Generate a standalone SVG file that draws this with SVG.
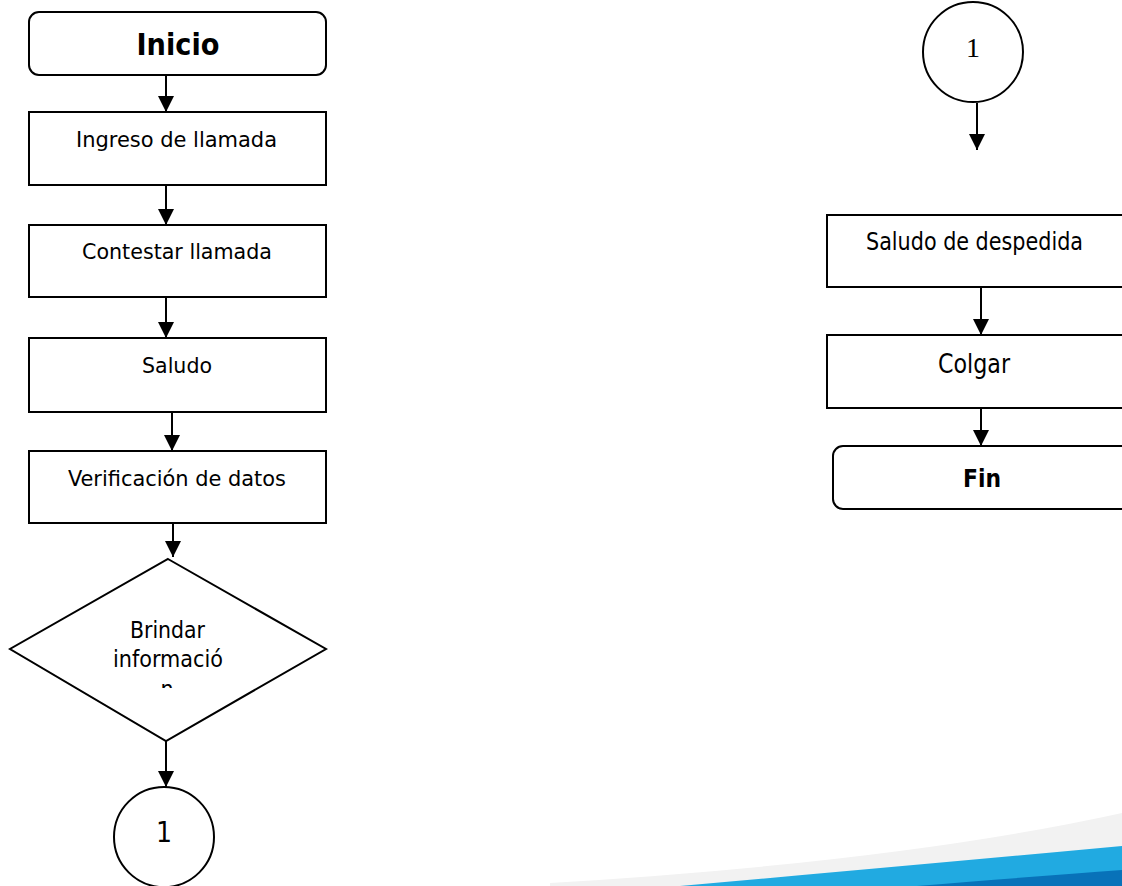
<svg xmlns="http://www.w3.org/2000/svg" width="1122" height="886" viewBox="0 0 1122 886">
<style>
.box{fill:#fff;stroke:#000;stroke-width:2}
.t{font-family:"DejaVu Sans","Liberation Sans",sans-serif;font-stretch:condensed;fill:#000;text-anchor:middle}
.b{font-weight:bold}
.con{stroke:#000;stroke-width:2;fill:none;marker-end:url(#ah)}
</style>
<defs>
<marker id="ah" markerUnits="userSpaceOnUse" markerWidth="16" markerHeight="16" refX="16" refY="8" orient="auto">
<path d="M0,0 L16,8 L0,16 z" fill="#000"/>
</marker>
<clipPath id="clipN"><rect x="100" y="600" width="140" height="88"/></clipPath>
</defs>
<rect width="1122" height="886" fill="#fff"/>
<g id="swoosh">
<path d="M550,886 L550,883 Q900,862 1122,813 L1122,886 Z" fill="#f2f2f2"/>
<path d="M680,886 Q950,862 1122,846 L1122,886 Z" fill="#21aae1"/>
<path d="M917,886 Q1040,876 1122,870 L1122,886 Z" fill="#0872b9"/>
</g>
<g id="connectors">
<line class="con" x1="166" y1="75" x2="166" y2="112"/>
<line class="con" x1="166" y1="185" x2="166" y2="225"/>
<line class="con" x1="166" y1="297" x2="166" y2="338"/>
<line class="con" x1="172" y1="412" x2="172" y2="451"/>
<line class="con" x1="173" y1="523" x2="173" y2="557"/>
<line class="con" x1="166" y1="741" x2="166" y2="787"/>
<line class="con" x1="977" y1="103" x2="977" y2="150"/>
<line class="con" x1="981" y1="287" x2="981" y2="335"/>
<line class="con" x1="981" y1="406" x2="981" y2="446"/>
</g>
<g id="inicio">
<rect class="box" x="29" y="12" width="297" height="63" rx="10"/>
<text class="t b" x="178" y="55" style="font-size:30px" textLength="83" lengthAdjust="spacingAndGlyphs">Inicio</text>
</g>
<g id="ingreso">
<rect class="box" x="29" y="112" width="297" height="73"/>
<text class="t" x="176.500" y="147" style="font-size:22px" textLength="201" lengthAdjust="spacingAndGlyphs">Ingreso de llamada</text>
</g>
<g id="contestar">
<rect class="box" x="29" y="225" width="297" height="72"/>
<text class="t" x="177" y="259" style="font-size:22px" textLength="190" lengthAdjust="spacingAndGlyphs">Contestar llamada</text>
</g>
<g id="saludo">
<rect class="box" x="29" y="338" width="297" height="74"/>
<text class="t" x="177" y="373" style="font-size:22px" textLength="70" lengthAdjust="spacingAndGlyphs">Saludo</text>
</g>
<g id="verificacion">
<rect class="box" x="29" y="451" width="297" height="72"/>
<text class="t" x="177" y="486" style="font-size:22px" textLength="218" lengthAdjust="spacingAndGlyphs">Verificación de datos</text>
</g>
<g id="brindar">
<polygon class="box" points="168,559 326,649 166,741 10,649"/>
<text class="t" x="167.500" y="638" style="font-size:23px" textLength="75" lengthAdjust="spacingAndGlyphs">Brindar</text>
<text class="t" x="168" y="667" style="font-size:23px" textLength="110" lengthAdjust="spacingAndGlyphs">informació</text>
<text class="t" x="167" y="697" style="font-size:23px" clip-path="url(#clipN)">n</text>
</g>
<g id="conector1a">
<circle class="box" cx="164" cy="837" r="50"/>
<text class="t" x="164" y="842" style="font-size:28px">1</text>
</g>
<g id="conector1b">
<circle class="box" cx="973" cy="52" r="50"/>
<text x="973" y="57" font-family="'Liberation Serif',serif" font-size="28" text-anchor="middle">1</text>
</g>
<g id="despedida">
<rect class="box" x="827" y="215" width="310" height="72"/>
<text class="t" x="974.500" y="250" style="font-size:24px" textLength="217" lengthAdjust="spacingAndGlyphs">Saludo de despedida</text>
</g>
<g id="colgar">
<rect class="box" x="827" y="335" width="310" height="73"/>
<text class="t" x="974" y="373" style="font-size:26px" textLength="72" lengthAdjust="spacingAndGlyphs">Colgar</text>
</g>
<g id="fin">
<rect class="box" x="833" y="446" width="310" height="63" rx="10"/>
<text class="t b" x="982" y="487" style="font-size:25px" textLength="38" lengthAdjust="spacingAndGlyphs">Fin</text>
</g>
</svg>
